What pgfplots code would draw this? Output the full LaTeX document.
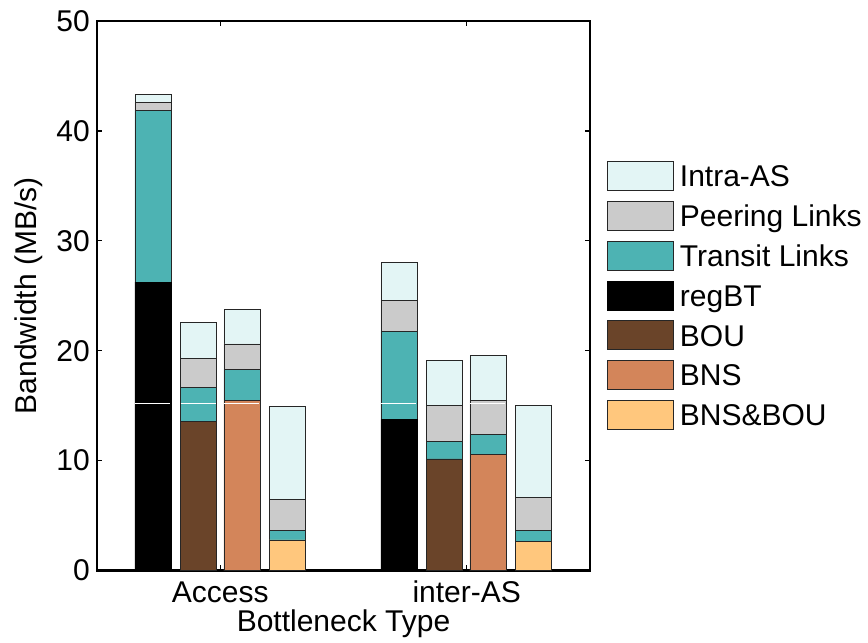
\documentclass[border=0pt]{standalone}
\usepackage{pgfplots}
\pgfplotsset{compat=1.18}
\usepackage{fontspec}
\setmainfont{Liberation Sans}
\definecolor{cIntra}{HTML}{E3F5F5}
\definecolor{cPeer}{HTML}{CBCBCB}
\definecolor{cTransit}{HTML}{4DB3B3}
\definecolor{cBOU}{HTML}{6A4429}
\definecolor{cBNS}{HTML}{D3855A}
\definecolor{cBB}{HTML}{FFC77D}
\newcommand{\bigfont}{\fontsize{30bp}{36bp}\selectfont}
\begin{document}
\begin{tikzpicture}
\path (-97bp,-72.5bp) rectangle (771bp,570.5bp);
\pgfplotsset{mylegend/.style={legend image code/.code={\draw[##1, line width=0.7bp] (0bp,-14.5bp) rectangle (66bp,14.5bp);}}}
\begin{axis}[
  at={(0,0)}, anchor=south west,
  scale only axis, width=493bp, height=549.5bp,
  xmin=0.5, xmax=2.5, ymin=0, ymax=50,
  ybar stacked, bar width=0.146, bar shift=0pt,
  xtick={1,2}, xticklabels={Access,inter-AS},
  ytick={0,10,20,30,40,50},
  tick pos=both, tick align=inside,
  major tick length=5bp,
  tick style={line width=1.3bp, black},
  axis line style={line width=2bp},
  /pgf/number format/assume math mode=true,
  tick label style={font=\bigfont},
  xticklabel style={anchor=base, yshift=-31.8bp, inner sep=0pt},
  yticklabel style={anchor=east, xshift=-7bp, inner sep=0pt},
  xlabel={Bottleneck Type},
  ylabel={Bandwidth (MB/s)},
  label style={font=\bigfont},
  xlabel style={at={(rel axis cs:0.5,0)}, anchor=base, yshift=-60.5bp, inner sep=0pt},
  ylabel style={at={(rel axis cs:0,0.5)}, anchor=south, yshift=54bp, inner sep=0pt},
  reverse legend,
  legend cell align=left,
  legend style={draw=none, fill=none, at={(1.0345,0.7458)}, anchor=north west,
    inner sep=0pt, row sep=10.2bp, column sep=6bp, font=\bigfont,
    nodes={inner sep=0pt, text height=21.5bp, text depth=0bp}},
  mylegend,
]
\addplot[fill=cBB, draw=black!85, line width=0.7bp, mylegend] coordinates {(0.727,0) (0.910,0) (1.088,0) (1.271,2.78) (1.725,0) (1.910,0) (2.086,0) (2.271,2.62)};
\addlegendentry{BNS\&BOU}
\addplot[fill=cBNS, draw=black!85, line width=0.7bp, mylegend] coordinates {(0.727,0) (0.910,0) (1.088,15.49) (1.271,0) (1.725,0) (1.910,0) (2.086,10.57) (2.271,0)};
\addlegendentry{BNS}
\addplot[fill=cBOU, draw=black!85, line width=0.7bp, mylegend] coordinates {(0.727,0) (0.910,13.54) (1.088,0) (1.271,0) (1.725,0) (1.910,10.15) (2.086,0) (2.271,0)};
\addlegendentry{BOU}
\addplot[fill=black, draw=black, line width=0.7bp, mylegend] coordinates {(0.727,26.25) (0.910,0) (1.088,0) (1.271,0) (1.725,13.72) (1.910,0) (2.086,0) (2.271,0)};
\addlegendentry{regBT}
\addplot[fill=cTransit, draw=black!85, line width=0.7bp, mylegend] coordinates {(0.727,15.62) (0.910,3.13) (1.088,2.82) (1.271,0.88) (1.725,8.04) (1.910,1.61) (2.086,1.82) (2.271,1.04)};
\addlegendentry{Transit Links}
\addplot[fill=cPeer, draw=black!85, line width=0.7bp, mylegend] coordinates {(0.727,0.73) (0.910,2.64) (1.088,2.30) (1.271,2.78) (1.725,2.83) (1.910,3.27) (2.086,3.10) (2.271,2.97)};
\addlegendentry{Peering Links}
\addplot[fill=cIntra, draw=black!85, line width=0.7bp, mylegend] coordinates {(0.727,0.73) (0.910,3.27) (1.088,3.12) (1.271,8.46) (1.725,3.41) (1.910,4.09) (2.086,4.09) (2.271,8.40)};
\addlegendentry{Intra-AS}
\end{axis}
\begin{axis}[
  at={(0,0)}, anchor=south west,
  scale only axis, width=493bp, height=549.5bp,
  xmin=0.5, xmax=2.5, ymin=0, ymax=50, hide axis,
]
\addplot[white, line width=1bp, no marks, unbounded coords=jump] coordinates {(0.656,15.15) (0.798,15.15) (nan,nan) (0.839,15.15) (0.981,15.15) (nan,nan) (1.017,15.15) (1.159,15.15) (nan,nan) (1.654,15.15) (1.796,15.15) (nan,nan) (2.015,15.15) (2.157,15.15)};
\end{axis}
\end{tikzpicture}
\end{document}
